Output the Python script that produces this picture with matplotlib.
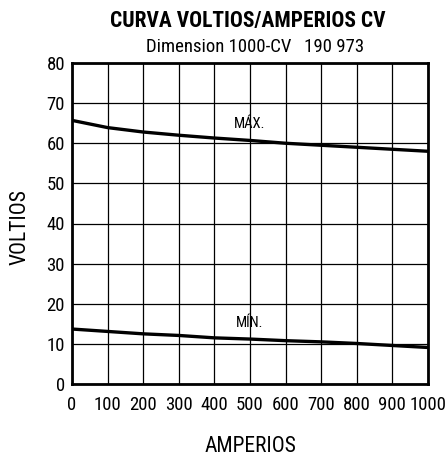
import matplotlib
matplotlib.use("Agg")
import matplotlib.pyplot as plt

plt.rcParams['font.family'] = ['Roboto Condensed', 'DejaVu Sans']

amperes = [0, 100, 200, 300, 400, 500, 600, 700, 800, 900, 1000]
volt_max = [65.7, 63.9, 62.8, 62.0, 61.3, 60.7, 60.0, 59.5, 59.0, 58.5, 58.0]
volt_min = [13.7, 13.1, 12.5, 12.1, 11.5, 11.2, 10.8, 10.5, 10.1, 9.6, 9.1]
x_ticks = [0, 100, 200, 300, 400, 500, 600, 700, 800, 900, 1000]
y_ticks = [0, 10, 20, 30, 40, 50, 60, 70, 80]

fig = plt.figure(figsize=(4.47, 4.55), dpi=100)
ax = fig.add_axes([72/447, 1-384/455, (428-72)/447, (384-63)/455])
ax.plot(amperes, volt_max, color='black', lw=2.4, solid_capstyle='butt')
ax.plot(amperes, volt_min, color='black', lw=2.4, solid_capstyle='butt')
ax.set_xlim(0, 1000)
ax.set_ylim(0, 80)
ax.set_xticks(x_ticks)
ax.set_yticks(y_ticks)
ax.grid(True, color='black', lw=0.9)
ax.tick_params(length=0, labelsize=13.5)
ax.tick_params(axis='y', pad=5)
ax.tick_params(axis='x', pad=9)
for s in ax.spines.values():
    s.set_linewidth(2)
ax.text(500, 64.7, "MÁX.", ha='center', va='center', fontsize=10.5)
ax.text(500, 15.1, "MÍN.", ha='center', va='center', fontsize=10.5)
ax.set_ylabel("VOLTIOS", fontsize=15.5, va='center')
ax.yaxis.set_label_coords((20.5-72)/356, 0.5 - 4/321)
ax.set_xlabel("AMPERIOS", fontsize=15.5, va='center')
ax.xaxis.set_label_coords((250-72)/356, -(446-384)/321)
fig.text(248/447, 1-21.5/455, "CURVA VOLTIOS/AMPERIOS CV", ha='center', va='center',
         fontsize=15.5, fontweight='bold')
fig.text(255/447, 1-47.5/455, "Dimension 1000-CV   190 973", ha='center', va='center',
         fontsize=13.5)
fig.savefig("out.png", dpi=100)
